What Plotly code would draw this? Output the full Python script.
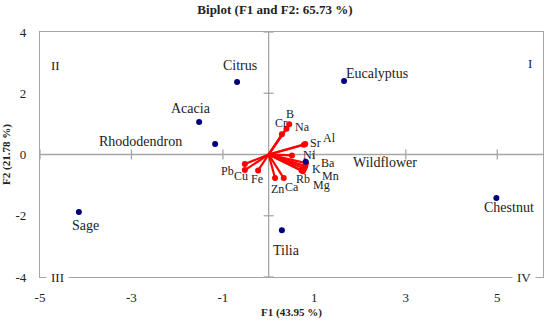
import plotly.graph_objects as go

# Observations (samples)
sample_names = ["Citrus", "Eucalyptus", "Acacia", "Rhododendron", "Sage", "Chestnut", "Tilia", "Wildflower"]
sample_f1 = [-0.69, 1.65, -1.52, -1.17, -4.15, 4.98, 0.29, 0.81]
sample_f2 = [2.37, 2.40, 1.06, 0.34, -1.88, -1.42, -2.47, -0.24]

# Variables (elements)
var_names = ["B", "Cr", "Na", "Sr", "Al", "Ni", "Ba", "K", "Mn", "Rb", "Mg", "Pb", "Cu", "Fe", "Zn", "Ca"]
var_f1 = [0.45, 0.39, 0.29, 0.77, 0.80, 0.51, 0.82, 0.80, 0.78, 0.72, 0.75, -0.52, -0.52, -0.23, 0.14, 0.33]
var_f2 = [0.99, 0.84, 0.66, 0.32, 0.34, -0.03, -0.28, -0.38, -0.46, -0.52, -0.55, -0.31, -0.51, -0.52, -0.77, -0.77]

x_ticks = [-5, -3, -1, 1, 3, 5]
x_ticklabels = ["-5", "-3", "-1", "1", "3", "5"]
y_ticks = [-4, -2, 0, 2, 4]
y_ticklabels = ["-4", "-2", "0", "2", "4"]
x_range = [-5, 6]
y_range = [-4, 4]

title_text = "Biplot (F1 and F2: 65.73 %)"
x_title = "F1 (43.95 %)"
y_title = "F2 (21.78 %)"
quadrants = ["I", "II", "III", "IV"]

FONT = "Liberation Serif"
GRAY = "#a6a6a6"
NAVY = "#00007f"
RED = "#ff0000"
TXT = "#222222"

# label offsets in pixels (dx, dy up)
sample_offsets = {
    "Citrus": (3, 16), "Eucalyptus": (33, 8), "Acacia": (-8, 14), "Rhododendron": (-75, 3),
    "Sage": (7, -13), "Chestnut": (13, -10), "Tilia": (5, -20), "Wildflower": (79, -1),
}
var_offsets = {
    "B": (1, 10), "Cr": (-5, 6), "Na": (21, 7), "Sr": (12, 2), "Al": (24, 6), "Ni": (18, 0),
    "Ba": (22, 0), "K": (11, -3), "Mn": (26, -7), "Rb": (1, -9), "Mg": (19, -14),
    "Pb": (-17, -7), "Cu": (-4, -6), "Fe": (-1, -9), "Zn": (2, -11), "Ca": (8, -9),
}

fig = go.Figure()

# vectors
vx, vy = [], []
for a, b in zip(var_f1, var_f2):
    vx += [0, a, None]
    vy += [0, b, None]
fig.add_trace(go.Scatter(x=vx, y=vy, mode="lines", line=dict(color=RED, width=2.2),
                         hoverinfo="skip", showlegend=False))
fig.add_trace(go.Scatter(x=var_f1, y=var_f2, mode="markers", marker=dict(color=RED, size=6),
                         text=var_names, showlegend=False))
fig.add_trace(go.Scatter(x=sample_f1, y=sample_f2, mode="markers", marker=dict(color=NAVY, size=6),
                         text=sample_names, showlegend=False))

shapes = []
# inner axes lines through origin
shapes.append(dict(type="line", xref="x", yref="y", x0=x_range[0], x1=x_range[1], y0=0, y1=0,
                   line=dict(color=GRAY, width=1.3), layer="below"))
shapes.append(dict(type="line", xref="x", yref="y", x0=0, x1=0, y0=y_range[0], y1=y_range[1],
                   line=dict(color=GRAY, width=1.3), layer="below"))
# tick marks on the inner axes
for t in x_ticks:
    shapes.append(dict(type="line", xref="x", yref="y", ysizemode="pixel", yanchor=0,
                       x0=t, x1=t, y0=-5, y1=5, line=dict(color=GRAY, width=1.3), layer="below"))
for t in y_ticks:
    shapes.append(dict(type="line", xref="x", yref="y", xsizemode="pixel", xanchor=0,
                       y0=t, y1=t, x0=-5, x1=5, line=dict(color=GRAY, width=1.3), layer="below"))

annotations = []
for n, a, b in zip(sample_names, sample_f1, sample_f2):
    dx, dy = sample_offsets[n]
    annotations.append(dict(x=a, y=b, xref="x", yref="y", text=n, showarrow=False,
                            xshift=dx, yshift=dy, font=dict(family=FONT, size=14, color=TXT)))
for n, a, b in zip(var_names, var_f1, var_f2):
    dx, dy = var_offsets[n]
    annotations.append(dict(x=a, y=b, xref="x", yref="y", text=n, showarrow=False,
                            xshift=dx, yshift=dy, font=dict(family=FONT, size=12, color=TXT)))

quad_pos = {"I": (0.974, 0.872), "II": (0.03, 0.865), "III": (0.034, 0.0), "IV": (0.962, 0.0)}
for q in quadrants:
    px, py = quad_pos[q]
    bottom = q in ("III", "IV")
    annotations.append(dict(x=px, y=py, xref="paper", yref="paper", text=q, showarrow=False,
                            xanchor="center", yanchor="middle",
                            font=dict(family=FONT, size=13, color=TXT),
                            bgcolor="white" if bottom else None, borderpad=4 if bottom else 0))

fig.update_layout(
    width=550, height=325,
    margin=dict(l=40, r=7, t=32, b=48),
    paper_bgcolor="white", plot_bgcolor="white",
    title=dict(text="<b>" + title_text + "</b>", x=0.5, xanchor="center", y=0.972, yanchor="middle",
               font=dict(family=FONT, size=13, color=TXT)),
    font=dict(family=FONT, size=13, color=TXT),
    xaxis=dict(range=x_range, tickvals=x_ticks, ticktext=x_ticklabels, showgrid=False, zeroline=False,
               showline=True, mirror=True, linecolor=GRAY, linewidth=1.3, ticks="",
               automargin=False, ticklabelstandoff=8, tickfont=dict(family=FONT, size=13),
               title=dict(text="<b>" + x_title + "</b>", font=dict(family=FONT, size=11), standoff=4)),
    yaxis=dict(range=y_range, tickvals=y_ticks, ticktext=y_ticklabels, showgrid=False, zeroline=False,
               showline=True, mirror=True, linecolor=GRAY, linewidth=1.3, ticks="",
               automargin=False, ticklabelstandoff=10, tickfont=dict(family=FONT, size=13),
               title=dict(text="<b>" + y_title + "</b>", font=dict(family=FONT, size=11), standoff=4)),
    shapes=shapes, annotations=annotations, showlegend=False,
)

fig.write_html("out.html", config={"displayModeBar": False},
               post_script="document.body.style.margin='0';")
